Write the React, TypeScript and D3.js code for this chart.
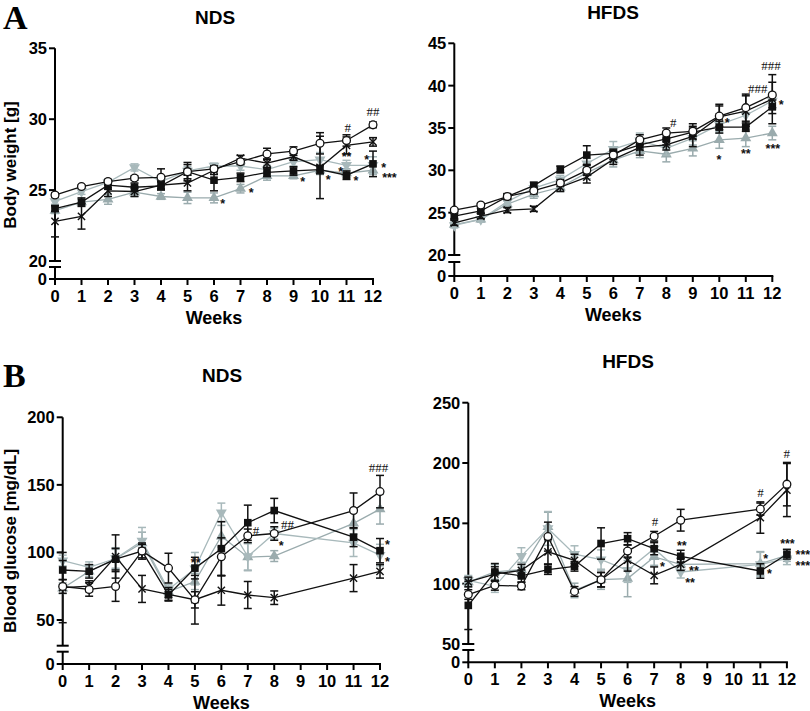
import React from 'react';
import * as d3 from 'd3';

// ---------- DATA ----------
const weeksBW = [0, 1, 2, 3, 4, 5, 6, 7, 8, 9, 10, 11, 12];
const weeksBG = [0, 1, 2, 3, 4, 5, 6, 7, 8, 11, 12];
const xTickValues = [0, 1, 2, 3, 4, 5, 6, 7, 8, 9, 10, 11, 12];

// A – body weight, NDS
const bwNdsCircle = [24.65, 25.25, 25.6, 25.85, 25.9, 26.3, 26.5, 27.0, 27.55, 27.75, 28.3, 28.5, 29.6];
const bwNdsCircleErr = [0.15, 0.1, 0.15, 0.15, 0.6, 0.65, 0.2, 0.2, 0.4, 0.3, 0.75, 0.4, 0.2];
const bwNdsCross = [22.8, 23.15, 24.95, 24.9, 25.35, 25.5, 26.4, 27.25, 26.9, 27.35, 26.6, 28.15, 28.4];
const bwNdsCrossErr = [1.1, 0.9, 0.4, 0.35, 0.3, 0.55, 0.3, 0.2, 0.3, 0.25, 2.2, 0.6, 0.3];
const bwNdsSquare = [23.7, 24.15, 25.35, 25.2, 25.3, 26.3, 25.7, 25.9, 26.25, 26.35, 26.45, 26.05, 26.85];
const bwNdsSquareErr = [0.2, 0.3, 0.3, 0.3, 0.3, 0.5, 0.75, 0.3, 0.3, 0.3, 0.3, 0.3, 0.9];
const bwNdsUp = [23.55, 24.15, 24.35, 24.85, 24.55, 24.45, 24.45, 25.1, 26.0, 26.0, 26.4, 26.2, 26.4];
const bwNdsUpErr = [0.2, 0.2, 0.35, 0.3, 0.2, 0.4, 0.35, 0.3, 0.3, 0.2, 0.3, 0.3, 0.3];
const bwNdsDown = [24.2, 24.9, 25.55, 26.6, 25.6, 26.35, 26.7, 26.7, 26.45, 27.0, 27.15, 26.75, 26.75];
const bwNdsDownErr = [0.2, 0.2, 0.2, 0.25, 0.2, 0.3, 0.2, 0.3, 0.3, 0.3, 0.5, 0.35, 0.6];

// A – body weight, HFDS
const bwHfdsCircle = [25.3, 25.9, 26.9, 27.6, 28.5, 30.0, 31.8, 33.6, 34.4, 34.6, 36.4, 37.4, 38.9];
const bwHfdsCircleErr = [0.2, 0.2, 0.3, 0.4, 0.4, 0.6, 0.5, 0.6, 0.6, 0.9, 1.2, 1.6, 1.5];
const bwHfdsSquare = [24.6, 25.2, 26.9, 28.2, 30.1, 31.8, 32.0, 33.0, 33.7, 34.5, 35.1, 35.1, 37.5];
const bwHfdsSquareErr = [0.3, 0.3, 0.3, 0.4, 0.4, 1.1, 0.5, 0.6, 0.7, 0.5, 0.7, 0.5, 0.8];
const bwHfdsCross = [23.8, 24.6, 25.3, 25.45, 28.0, 29.2, 31.3, 32.7, 33.0, 34.0, 36.3, 37.0, 38.4];
const bwHfdsCrossErr = [0.3, 0.3, 0.3, 0.3, 0.5, 0.7, 0.6, 0.9, 0.6, 1.2, 1.5, 1.8, 2.9];
const bwHfdsUp = [23.6, 24.2, 26.0, 27.2, 28.0, 29.7, 31.2, 32.3, 31.9, 32.6, 33.6, 33.8, 34.4];
const bwHfdsUpErr = [0.3, 0.3, 0.4, 0.5, 0.5, 0.7, 0.8, 0.8, 0.9, 0.9, 1.0, 1.0, 0.8];
const bwHfdsDown = [23.5, 24.2, 26.3, 27.9, 28.9, 30.8, 32.5, 33.5, 32.6, 33.8, 35.4, 36.5, 38.2];
const bwHfdsDownErr = [0.3, 0.3, 0.3, 0.5, 0.5, 0.6, 0.9, 0.9, 0.8, 0.8, 1.0, 1.0, 1.0];

// B – blood glucose, NDS
const bgNdsCircle = [74.8, 72.6, 74.8, 101, 88.4, 64.9, 96.8, 112.3, 114, 131, 145];
const bgNdsCircleErr = [5, 5, 11, 5, 11, 6, 14, 5, 5, 13, 12];
const bgNdsSquare = [87, 86, 95, 101, 68.6, 88.4, 102.8, 122, 131, 111.3, 101.3];
const bgNdsSquareErr = [7, 5, 8, 6, 4, 8, 20, 13, 9, 7, 9];
const bgNdsCross = [74, 75, 97, 73, 69, 65, 72, 68.5, 66.5, 81, 86];
const bgNdsCrossErr = [26, 4, 16, 10, 5, 18, 11, 10, 5, 10, 5];
const bgNdsUp = [73.5, 86, 95.3, 107, 71, 78.5, 112, 96.5, 97.3, 121.5, 132];
const bgNdsUpErr = [4, 4, 7, 8, 4, 6, 8, 10, 4, 8, 11];
const bgNdsDown = [94, 89, 95.5, 108.5, 72.5, 88, 129.5, 97, 114, 107, 98];
const bgNdsDownErr = [4, 4, 8, 10, 4, 12, 7, 10, 4, 10, 8];

// B – blood glucose, HFDS
const bgHfdsCircle = [91, 98.6, 98, 139, 93.6, 103.3, 127, 139.3, 152.6, 161.8, 182.5];
const bgHfdsCircleErr = [4, 4, 3, 12, 4, 6, 5, 4, 9, 5, 18];
const bgHfdsSquare = [82, 109.7, 106.4, 111.7, 114.4, 133.3, 137.3, 129, 122.7, 110.5, 124.4];
const bgHfdsSquareErr = [20, 7, 5, 4, 4, 13, 5, 5, 5, 6, 4];
const bgHfdsCross = [101.4, 108, 111, 126.4, 119.4, 103.3, 119.4, 106.9, 116, 154.8, 177.6];
const bgHfdsCrossErr = [4, 6, 5, 10, 5, 6, 9, 7, 5, 13, 22];
const bgHfdsUp = [101.4, 109.7, 111.7, 147.2, 94.4, 103.3, 104.2, 122.2, 116, 116.6, 123.5];
const bgHfdsUpErr = [4, 6, 6, 12, 6, 8, 15, 7, 5, 10, 5];
const bgHfdsDown = [102.8, 97.8, 122.8, 145.8, 124.4, 120, 111.1, 129, 109.7, 116, 120.8];
const bgHfdsDownErr = [4, 5, 7, 14, 7, 8, 10, 6, 5, 10, 5];

// significance marks: [week, value, label]
const annBwNds: [number, number, string][] = [
  [12.0, 30.53, '##'], [11.05, 29.4, '#'], [11.0, 27.52, '**'], [11.76, 27.35, '*'],
  [12.4, 26.77, '*'], [12.62, 26.1, '***'], [11.36, 25.87, '*'], [10.78, 26.46, '*'],
  [10.31, 25.94, '*'], [9.35, 25.76, '*'], [7.4, 24.98, '*'], [6.33, 24.25, '*'],
];
const annBwHfds: [number, number, string][] = [
  [11.95, 42.36, '###'], [11.45, 39.7, '###'], [12.34, 38.1, '*'], [8.26, 35.6, '#'],
  [10.3, 36.0, '*'], [9.99, 31.6, '*'], [11.0, 32.3, '**'], [12.02, 32.9, '***'],
];
const annBgNds: [number, number, string][] = [
  [11.94, 163.2, '###'], [7.31, 116.3, '#'], [8.5, 120.5, '##'], [8.26, 107, '*'],
  [5.03, 94.6, '**'], [12.28, 107.4, '*'], [12.28, 95.1, '*'],
];
const annBgHfds: [number, number, string][] = [
  [11.99, 207.7, '#'], [11.01, 175.4, '#'], [7.03, 151.6, '#'], [8.04, 133.6, '**'],
  [7.31, 116, '*'], [8.5, 113.4, '**'], [8.35, 102.8, '**'], [11.2, 122.6, '*'],
  [11.34, 110.4, '*'], [12.02, 135.3, '***'], [12.6, 126.2, '***'], [12.6, 117.4, '***'],
];

const bwTicksNds = [20, 25, 30, 35];
const bwTicksHfds = [20, 25, 30, 35, 40, 45];
const bgTicksNds = [50, 100, 150, 200];
const bgTicksHfds = [50, 100, 150, 200, 250];

// ---------- STYLE ----------
const BLACK = '#111';
const GRAY_UP = '#9aabad';
const GRAY_DOWN = '#a8b9bb';
const SANS = '"Liberation Sans", Arial, sans-serif';
const SERIF = '"Liberation Serif", "Times New Roman", serif';

type Marker = 'circle' | 'square' | 'cross' | 'up' | 'down';
type Series = { values: number[]; errors: number[]; marker: Marker; color: string };

const mk = (values: number[], errors: number[], marker: Marker): Series => ({
  values,
  errors,
  marker,
  color: marker === 'up' ? GRAY_UP : marker === 'down' ? GRAY_DOWN : BLACK,
});

type Panel = {
  key: string;
  title: string;
  titleX: number;
  titleY: number;
  x0: number;
  x12: number;
  domain: [number, number];
  range: [number, number];
  axisBottom: number;
  breakBottom: number;
  zero: number;
  ticks: number[];
  weeks: number[];
  series: Series[];
  ann: [number, number, string][];
  ylabel?: string;
  ylabelY?: number;
  letter?: string;
  letterY?: number;
};

const panels: Panel[] = [
  {
    key: 'aN', title: 'NDS', titleX: 215, titleY: 24,
    x0: 55, x12: 373, domain: [20, 35], range: [261, 48.3],
    axisBottom: 261, breakBottom: 267, zero: 279, ticks: bwTicksNds, weeks: weeksBW,
    series: [
      mk(bwNdsUp, bwNdsUpErr, 'up'), mk(bwNdsDown, bwNdsDownErr, 'down'),
      mk(bwNdsSquare, bwNdsSquareErr, 'square'), mk(bwNdsCross, bwNdsCrossErr, 'cross'),
      mk(bwNdsCircle, bwNdsCircleErr, 'circle'),
    ],
    ann: annBwNds, ylabel: 'Body weight [g]', ylabelY: 165, letter: 'A', letterY: 29,
  },
  {
    key: 'aH', title: 'HFDS', titleX: 613, titleY: 19,
    x0: 454.3, x12: 772.3, domain: [20, 45], range: [255, 43.3],
    axisBottom: 255, breakBottom: 262, zero: 276, ticks: bwTicksHfds, weeks: weeksBW,
    series: [
      mk(bwHfdsUp, bwHfdsUpErr, 'up'), mk(bwHfdsDown, bwHfdsDownErr, 'down'),
      mk(bwHfdsSquare, bwHfdsSquareErr, 'square'), mk(bwHfdsCross, bwHfdsCrossErr, 'cross'),
      mk(bwHfdsCircle, bwHfdsCircleErr, 'circle'),
    ],
    ann: annBwHfds,
  },
  {
    key: 'bN', title: 'NDS', titleX: 222, titleY: 382,
    x0: 62.7, x12: 380, domain: [50, 200], range: [620, 417.3],
    axisBottom: 645.7, breakBottom: 651.7, zero: 664, ticks: bgTicksNds, weeks: weeksBG,
    series: [
      mk(bgNdsUp, bgNdsUpErr, 'up'), mk(bgNdsDown, bgNdsDownErr, 'down'),
      mk(bgNdsSquare, bgNdsSquareErr, 'square'), mk(bgNdsCross, bgNdsCrossErr, 'cross'),
      mk(bgNdsCircle, bgNdsCircleErr, 'circle'),
    ],
    ann: annBgNds, ylabel: 'Blood glucose [mg/dL]', ylabelY: 541, letter: 'B', letterY: 387,
  },
  {
    key: 'bH', title: 'HFDS', titleX: 628, titleY: 368,
    x0: 468.3, x12: 786.9, domain: [50, 250], range: [644, 402.7],
    axisBottom: 644, breakBottom: 650, zero: 662.3, ticks: bgTicksHfds, weeks: weeksBG,
    series: [
      mk(bgHfdsUp, bgHfdsUpErr, 'up'), mk(bgHfdsDown, bgHfdsDownErr, 'down'),
      mk(bgHfdsSquare, bgHfdsSquareErr, 'square'), mk(bgHfdsCross, bgHfdsCrossErr, 'cross'),
      mk(bgHfdsCircle, bgHfdsCircleErr, 'circle'),
    ],
    ann: annBgHfds,
  },
];

const triPath = d3.symbol().type(d3.symbolTriangle).size(52)() as string;

function MarkerShape({ m, x, y, color }: { m: Marker; x: number; y: number; color: string }) {
  if (m === 'circle')
    return <circle cx={x} cy={y} r={3.9} fill="#fff" stroke={color} strokeWidth={1.3} />;
  if (m === 'square')
    return <rect x={x - 3.8} y={y - 3.8} width={7.6} height={7.6} fill={color} />;
  if (m === 'cross')
    return (
      <g stroke={color} strokeWidth={1.4}>
        <line x1={x - 3.6} y1={y - 3.6} x2={x + 3.6} y2={y + 3.6} />
        <line x1={x - 3.6} y1={y + 3.6} x2={x + 3.6} y2={y - 3.6} />
      </g>
    );
  const rot = m === 'down' ? 180 : 0;
  return <path d={triPath} transform={`translate(${x},${y}) rotate(${rot})`} fill={color} />;
}

function PanelView({ p }: { p: Panel }) {
  const x = d3.scaleLinear().domain([0, 12]).range([p.x0, p.x12]);
  const y = d3.scaleLinear().domain(p.domain).range(p.range);
  const ax = p.x0;
  const line = d3
    .line<[number, number]>()
    .x((d) => x(d[0]))
    .y((d) => y(d[1]));
  const yTop = y(p.domain[1]);
  return (
    <g>
      {p.letter && (
        <text x={3} y={p.letterY} fontFamily={SERIF} fontWeight="bold" fontSize={34} fill="#000">
          {p.letter}
        </text>
      )}
      <text x={p.titleX} y={p.titleY} textAnchor="middle" fontFamily={SANS} fontWeight="bold" fontSize={19}>
        {p.title}
      </text>
      {p.ylabel && (
        <text
          transform={`translate(16,${p.ylabelY}) rotate(-90)`}
          textAnchor="middle"
          fontFamily={SANS}
          fontWeight="bold"
          fontSize={17}
        >
          {p.ylabel}
        </text>
      )}
      {/* y axis */}
      <g stroke="#000" strokeWidth={2} fill="none">
        <line x1={ax} y1={yTop} x2={ax} y2={p.axisBottom} />
        <line x1={ax - 6} y1={p.axisBottom} x2={ax + 6} y2={p.axisBottom} />
        <line x1={ax - 6} y1={p.breakBottom} x2={ax + 6} y2={p.breakBottom} />
        <line x1={ax} y1={p.breakBottom} x2={ax} y2={p.zero} />
        <line x1={ax - 6} y1={p.zero} x2={ax} y2={p.zero} />
        {p.ticks.map((t) => (
          <line key={t} x1={ax - 6} y1={y(t)} x2={ax} y2={y(t)} />
        ))}
        {/* x axis */}
        <line x1={ax - 1} y1={p.zero} x2={x(12) + 1} y2={p.zero} />
        {xTickValues.map((t) => (
          <line key={'x' + t} x1={x(t)} y1={p.zero} x2={x(t)} y2={p.zero + 6} />
        ))}
      </g>
      <g fontFamily={SANS} fontWeight="bold" fontSize={16.5} fill="#000">
        {p.ticks.map((t) => (
          <text key={t} x={ax - 8} y={y(t)} dy="0.36em" textAnchor="end">
            {t}
          </text>
        ))}
        <text x={ax - 8} y={p.zero} dy="0.36em" textAnchor="end">
          0
        </text>
        {xTickValues.map((t) => (
          <text key={'xl' + t} x={x(t)} y={p.zero + 23} textAnchor="middle">
            {t}
          </text>
        ))}
        <text x={(p.x0 + p.x12) / 2} y={p.zero + 45} textAnchor="middle" fontSize={18}>
          Weeks
        </text>
      </g>
      {/* series */}
      {p.series.map((s, si) => {
        const pts = p.weeks.map((w, i) => [w, s.values[i]] as [number, number]);
        return (
          <g key={si}>
            <path d={line(pts) as string} fill="none" stroke={s.color} strokeWidth={1.3} />
            {pts.map(([w, v], i) => {
              const e = s.errors[i];
              const cx = x(w);
              return (
                <g key={i} stroke={s.color} strokeWidth={1.5}>
                  <line x1={cx} y1={y(v - e)} x2={cx} y2={y(v + e)} />
                  <line x1={cx - 4} y1={y(v + e)} x2={cx + 4} y2={y(v + e)} />
                  <line x1={cx - 4} y1={y(v - e)} x2={cx + 4} y2={y(v - e)} />
                </g>
              );
            })}
            {pts.map(([w, v], i) => (
              <MarkerShape key={'m' + i} m={s.marker} x={x(w)} y={y(v)} color={s.color} />
            ))}
          </g>
        );
      })}
      {/* significance marks */}
      {p.ann.map(([w, v, t], i) => {
        const isHash = t[0] === '#';
        return (
          <text
            key={'a' + i}
            x={x(w)}
            y={y(v) + (isHash ? 4.5 : 7)}
            textAnchor="middle"
            fontFamily={isHash ? SERIF : SANS}
            fontWeight={isHash ? 'normal' : 'bold'}
            fontSize={isHash ? 13 : 12.5}
            fill="#111"
          >
            {t}
          </text>
        );
      })}
    </g>
  );
}

export default function App() {
  return (
    <svg
      width={810}
      height={711}
      viewBox="0 0 810 711"
      style={{ position: 'absolute', left: 0, top: 0, background: '#fff' }}
    >
      <rect width={810} height={711} fill="#fff" />
      {panels.map((p) => (
        <PanelView key={p.key} p={p} />
      ))}
    </svg>
  );
}
